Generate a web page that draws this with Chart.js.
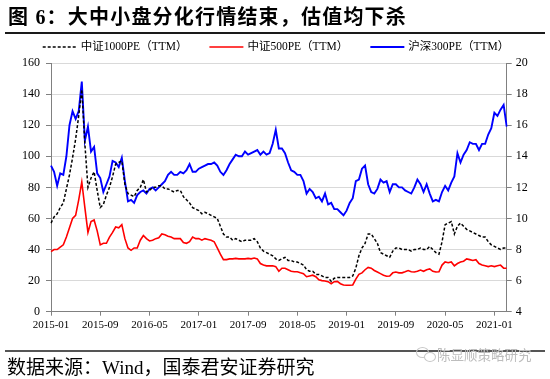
<!DOCTYPE html>
<html><head><meta charset="utf-8">
<script src="https://cdn.jsdelivr.net/npm/chart.js"></script>
<style>
html,body{margin:0;padding:0;background:#fff;}
#wrap{position:relative;width:550px;height:379px;overflow:hidden;background:#fff;}
#chartBox{position:absolute;left:0;top:0;width:550px;height:379px;}
.t{position:absolute;white-space:nowrap;font-family:"Liberation Serif","Noto Sans CJK SC",serif;}
</style></head><body>
<div id="wrap">
<div id="chartBox"><canvas id="c"></canvas></div>
<div class="t" style="left:8px;top:4px;font-size:20px;line-height:26px;font-weight:bold;letter-spacing:1.2px;color:#000;">图 6：大中小盘分化行情结束，估值均下杀</div>
<div style="position:absolute;left:5px;top:32px;width:540px;height:2px;background:#1a1a1a;"></div>
<div style="position:absolute;left:5px;top:350px;width:540px;height:2px;background:#555;"></div>
<div class="t" style="left:7px;top:356px;font-size:19px;line-height:24px;color:#000;">数据来源：Wind，国泰君安证券研究</div>
<div style="position:absolute;left:416px;top:347px;width:11px;height:9px;border:1px solid #c8c8c8;border-radius:50%;"></div>
<div style="position:absolute;left:424px;top:352px;width:10px;height:8px;border:1px solid #c8c8c8;border-radius:50%;background:#fff;"></div>
<div class="t" style="left:437px;top:345px;font-size:13.5px;line-height:18px;color:#bdbdbd;font-family:'Noto Sans CJK SC',sans-serif;">陈显顺策略研究</div>
</div>
<script>
// Axis tick labels (x) and series names
const tickLabels = ['2015-01','2015-09','2016-05','2017-01','2017-09','2018-05','2019-01','2019-09','2020-05','2021-01'];
const seriesNames = ['中证1000PE（TTM）','中证500PE（TTM）','沪深300PE（TTM）'];

// Half-month date categories, 2015-01 .. 2021-03
const dates = [];
for (let i = 0; i < 149; i++) {
  const mi = Math.floor(i / 2);
  const y = 2015 + Math.floor(mi / 12);
  const m = String(mi % 12 + 1).padStart(2, '0');
  dates.push(y + '-' + m + (i % 2 === 0 ? '-01' : '-16'));
}

// 中证1000 PE(TTM), left axis
const csi1000 = [
  57,61,63,67,70,79,88,99,111,126,
  143,108,80,86,90,78,67,69,75,80,
  87,95,96,97,82,76,75,74,78,80,
  85,77,78,80,80,81,81,79,79,78,
  77,78,78,74,72,70,67,66,65,63,
  64,63,62,61,60,55,50,48,48,46,
  47,46,45,46,46,46,47,45,41,39,
  38,37,36,34,33,34,35,33,33,32,
  32,31,30,27,26,26,24,24,23,22,
  22,19.5,21.5,22,22,22,22,22,23,28,
  36,41,44,50,50,47,44,38,37,36,
  35,39,41,41,40,40,40,39,40,40,
  41,40,40,42,40,38,37,45,56,57,
  58,50,55,57,55,53,52,51,50,49,
  48,48,45,43,42,41,40,41,41
];

// 中证500 PE(TTM), left axis
const csi500 = [
  38.6,40,40,41.5,43,48,54,60,62,72,
  83.5,67,51,58,59,52,43,44,44,48,
  51,54.5,54,56,47,41,39.5,41,41,46,
  49,47,45.5,46,47,47.5,50,49.5,48.5,48,
  47,47,47,44.5,44,45,48,47,47,46,
  47,46.5,46,45,41,37,33.5,33.5,34,34,
  34.3,34,34,34,34.3,34,34.5,34,31,30,
  29.5,29.5,29.5,29,26,28,28,27,26,25.7,
  25.7,25,24.5,22.5,23,23.5,22.5,20.5,20,19.8,
  19.3,18,19.3,19.5,18,17.2,17,17,17.2,21,
  24,25,27,28.5,28,26.5,25.5,24.5,23.5,22.8,
  23,25,25.5,25,25,25.7,26.5,25.7,25.5,26,
  26.8,26,27,27.5,26,25.5,25.7,30,32,31.5,
  32,29.5,31,32,32.5,34,33.5,33,33.5,31,
  30,29.5,29,29.5,29,29.5,30,28,28
];

// 沪深300 PE(TTM), right axis
const hs300 = [
  13.4,13.0,12.1,12.9,12.8,14.0,16.0,16.9,16.4,16.9,
  18.8,15.0,15.9,14.3,14.6,12.9,12.6,11.7,12.2,12.7,
  13.7,13.6,13.3,13.9,12.4,11.1,11.2,11.0,11.5,11.7,
  11.8,11.6,11.9,12.0,11.8,12.0,12.2,12.4,12.8,13.0,
  12.8,12.8,13.0,12.9,13.1,13.5,13.0,13.0,13.2,13.3,
  13.4,13.5,13.5,13.6,13.4,13.0,12.8,13.1,13.5,13.8,
  14.1,14.0,14.0,14.3,14.1,14.2,14.3,14.4,14.1,14.3,
  14.1,14.2,14.8,15.7,14.5,14.5,14.2,13.6,13.1,13.0,
  12.8,12.8,12.4,11.6,11.9,11.7,11.3,11.4,11.1,11.6,
  10.9,11.0,10.6,10.6,10.4,10.2,10.5,11.0,11.3,12.4,
  12.5,13.2,13.4,12.2,11.7,11.6,11.9,12.5,12.3,12.4,
  11.7,12.2,12.2,12.0,12.0,11.8,11.7,11.6,12.0,12.5,
  12.2,11.7,12.2,11.6,11.1,11.2,11.1,11.7,12.1,11.8,
  12.3,12.7,14.2,13.6,14.1,14.4,14.9,14.8,14.8,14.4,
  14.8,14.8,15.4,15.8,16.8,16.6,17.0,17.3,15.9
];

const FONT = '"Liberation Serif","Noto Sans CJK SC",serif';

const refLegend = {
  id: 'refLegend',
  afterDraw(chart) {
    const ctx = chart.ctx;
    ctx.save();
    ctx.font = '11.5px ' + FONT;
    ctx.textBaseline = 'middle';
    ctx.textAlign = 'left';
    const lineW = 34, gapT = 4, gapItem = 22, y = 47;
    const items = chart.data.datasets.map(d => ({
      label: d.label, color: d.borderColor, dash: d.borderDash || [], lw: d.borderWidth,
      w: ctx.measureText(d.label).width
    }));
    const total = items.reduce((s, it) => s + lineW + gapT + it.w, 0) + gapItem * (items.length - 1);
    let x = 276 - total / 2;
    items.forEach(it => {
      ctx.beginPath();
      ctx.setLineDash(it.dash);
      ctx.strokeStyle = it.color;
      ctx.lineWidth = it.lw;
      ctx.moveTo(x, y);
      ctx.lineTo(x + lineW, y);
      ctx.stroke();
      ctx.setLineDash([]);
      ctx.fillStyle = '#000';
      ctx.fillText(it.label, x + lineW + gapT, y);
      x += lineW + gapT + it.w + gapItem;
    });
    ctx.restore();
  }
};

new Chart(document.getElementById('c'), {
  type: 'line',
  data: {
    labels: dates,
    datasets: [
      { label: seriesNames[0], data: csi1000, yAxisID: 'y', borderColor: '#000000', borderWidth: 1.5, borderDash: [3, 2], pointRadius: 0, tension: 0 },
      { label: seriesNames[1], data: csi500, yAxisID: 'y', borderColor: '#FF0000', borderWidth: 1.6, pointRadius: 0, tension: 0 },
      { label: seriesNames[2], data: hs300, yAxisID: 'y1', borderColor: '#0000FF', borderWidth: 1.9, pointRadius: 0, tension: 0 }
    ]
  },
  options: {
    responsive: true,
    maintainAspectRatio: false,
    animation: false,
    devicePixelRatio: 1,
    events: [],
    layout: { padding: { top: 63, bottom: 37.3, left: 0, right: 0 } },
    plugins: { legend: { display: false }, tooltip: { enabled: false }, title: { display: false } },
    scales: {
      x: {
        type: 'category',
        offset: false,
        grid: { drawOnChartArea: false, drawTicks: true, tickLength: 4, tickColor: '#808080' },
        border: { color: '#808080', width: 1 },
        ticks: {
          autoSkip: false, maxRotation: 0, minRotation: 0, padding: 3, color: '#000',
          font: { family: FONT, size: 11 },
          callback: (v) => dates[v].slice(0, 7)
        },
        afterBuildTicks: (s) => {
          s.ticks = s.ticks.filter(t => dates[t.value].endsWith('-01') && tickLabels.includes(dates[t.value].slice(0, 7)));
        },
        afterFit: (s) => { s.height = 30; }
      },
      y: {
        position: 'left', min: 0, max: 160,
        ticks: { stepSize: 20, padding: 6, color: '#000', font: { family: FONT, size: 12 } },
        grid: { color: '#d9d9d9', lineWidth: 1, tickColor: '#808080', tickLength: 5 },
        border: { color: '#808080', width: 1 },
        afterFit: (s) => { s.width = 51; }
      },
      y1: {
        position: 'right', min: 4, max: 20,
        ticks: { stepSize: 2, padding: 4, color: '#000', font: { family: FONT, size: 12 } },
        grid: { drawOnChartArea: false, tickColor: '#808080', tickLength: 5 },
        border: { color: '#808080', width: 1 },
        afterFit: (s) => { s.width = 43.3; }
      }
    }
  },
  plugins: [refLegend]
});
</script>
</body></html>
